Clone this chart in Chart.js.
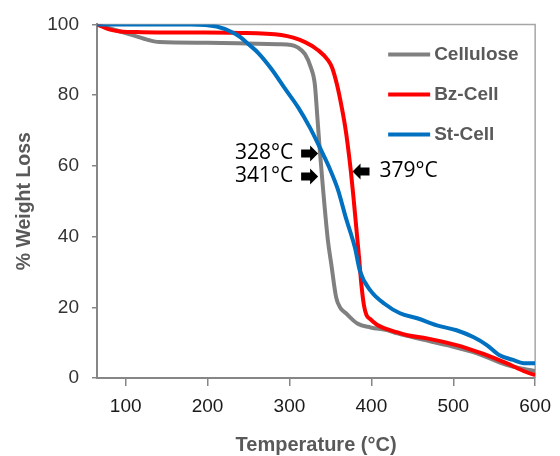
<!DOCTYPE html>
<html>
<head>
<meta charset="utf-8">
<script src="https://cdn.jsdelivr.net/npm/chart.js@4.4.1/dist/chart.umd.min.js"></script>
<style>
  html, body { margin: 0; padding: 0; background: #fff; }
</style>
</head>
<body>
<canvas id="tgaChart" width="560" height="456"></canvas>
<script>
// TGA curves
const cellTemp = [65, 85, 105, 129, 141, 200, 286, 302, 310, 319, 326, 331, 334, 337, 341, 347, 351, 357, 362, 369, 383, 399, 420, 432, 460, 492, 529, 565, 585, 600];
const cellLoss = [100, 98.6, 97.2, 95.5, 95.0, 94.8, 94.4, 94.2, 93.5, 91.6, 87.9, 83.0, 74.0, 64.6, 53.5, 38.8, 32.3, 22.8, 19.9, 18.3, 15.4, 14.3, 13.5, 12.6, 11.0, 9.3, 7.0, 3.7, 2.6, 2.0];

const bzTemp = [65, 81, 93, 120, 180, 238, 290, 319, 335, 347, 352, 358, 362, 368, 371, 375, 378, 381, 385, 388, 391, 394, 399, 408, 432, 444, 468, 504, 517, 541, 565, 589, 600];
const bzLoss = [100, 98.5, 98.0, 97.8, 97.7, 97.6, 97.0, 95.0, 92.7, 89.9, 87.8, 83.0, 78.7, 71.1, 66.2, 58.4, 51.5, 44.0, 34.0, 26.0, 20.5, 17.8, 16.6, 14.9, 12.9, 12.1, 11.2, 9.3, 8.4, 6.5, 4.2, 1.7, 0.8];

const stTemp = [65, 180, 211, 230, 240, 250, 262, 278, 295, 311, 325, 337, 349, 359, 369, 380, 386, 399, 416, 435, 456, 480, 504, 525, 541, 556, 573, 586, 600];
const stLoss = [100, 100, 99.4, 97.8, 96.4, 94.4, 91.9, 87.4, 81.7, 76.4, 70.8, 65.2, 59.3, 53.4, 45.2, 36.8, 30.3, 24.7, 21.0, 18.3, 16.9, 14.9, 13.5, 11.5, 9.3, 6.5, 5.1, 4.2, 4.2];

const seriesNames = ['Cellulose', 'Bz-Cell', 'St-Cell'];
const seriesColors = ['#808080', '#ff0000', '#0070c0'];

const xTicks = [100, 200, 300, 400, 500, 600];
const yTicks = [0, 20, 40, 60, 80, 100];

// arrow labels and the point each arrow tip touches
const markLabels = ['328°C', '341°C', '379°C'];
const markTemp = [335, 335, 377];
const markLoss = [63.5, 57.0, 58.4];
const markDir = [1, 1, -1]; // 1 = arrow points right

const sansFamily = '"Liberation Sans", Arial, sans-serif';

function toPoints(xs, ys) {
    return xs.map((x, i) => ({ x: x, y: ys[i] }));
}

function drawArrow(ctx, tipX, tipY, dir) {
    const len = 17, head = 8, headH = 8, shaftH = 4;
    ctx.beginPath();
    ctx.moveTo(tipX, tipY);
    ctx.lineTo(tipX - dir * head, tipY - headH);
    ctx.lineTo(tipX - dir * head, tipY - shaftH);
    ctx.lineTo(tipX - dir * len, tipY - shaftH);
    ctx.lineTo(tipX - dir * len, tipY + shaftH);
    ctx.lineTo(tipX - dir * head, tipY + shaftH);
    ctx.lineTo(tipX - dir * head, tipY + headH);
    ctx.closePath();
    ctx.fill();
}

const extras = {
    id: 'extras',
    beforeDatasetsDraw(chart) {
        const { ctx, chartArea: a } = chart;
        ctx.save();
        ctx.strokeStyle = '#a6a6a6';
        ctx.lineWidth = 1.5;
        ctx.beginPath();
        ctx.moveTo(a.left, a.top);
        ctx.lineTo(a.right, a.top);
        ctx.lineTo(a.right, a.bottom);
        ctx.stroke();
        ctx.restore();
    },
    afterDatasetsDraw(chart) {
        const { ctx, chartArea: a, scales } = chart;
        ctx.save();

        // legend
        ctx.font = 'bold 19px ' + sansFamily;
        ctx.textBaseline = 'middle';
        ctx.textAlign = 'left';
        seriesNames.forEach((name, i) => {
            const y = a.top + 30 + i * 40;
            ctx.strokeStyle = seriesColors[i];
            ctx.lineWidth = 4;
            ctx.beginPath();
            ctx.moveTo(a.right - 147, y);
            ctx.lineTo(a.right - 105, y);
            ctx.stroke();
            ctx.fillStyle = '#595959';
            ctx.fillText(name, a.right - 101, y);
        });

        // temperature arrows
        ctx.fillStyle = '#000';
        ctx.font = '21px "Open Sans", sans-serif';
        markLabels.forEach((label, i) => {
            const tx = scales.x.getPixelForValue(markTemp[i]);
            const ty = scales.y.getPixelForValue(markLoss[i]);
            drawArrow(ctx, tx, ty, markDir[i]);
            if (markDir[i] > 0) {
                ctx.textAlign = 'right';
                ctx.fillText(label, tx - 25, ty);
            } else {
                ctx.textAlign = 'left';
                ctx.fillText(label, tx + 27, ty);
            }
        });
        ctx.restore();
    }
};

const ctx = document.getElementById('tgaChart').getContext('2d');

const tgaChart = new Chart(ctx, {
    type: 'line',
    data: {
        datasets: [
            { label: seriesNames[0], data: toPoints(cellTemp, cellLoss), borderColor: seriesColors[0], order: 3 },
            { label: seriesNames[1], data: toPoints(bzTemp, bzLoss), borderColor: seriesColors[1], order: 2 },
            { label: seriesNames[2], data: toPoints(stTemp, stLoss), borderColor: seriesColors[2], order: 1 }
        ]
    },
    options: {
        responsive: false,
        animation: false,
        layout: { padding: { top: 22, right: 20, left: 0, bottom: 0 } },
        elements: {
            line: { borderWidth: 4, cubicInterpolationMode: 'monotone', fill: false },
            point: { radius: 0 }
        },
        plugins: {
            legend: { display: false },
            tooltip: { enabled: false }
        },
        scales: {
            x: {
                type: 'linear',
                min: 65,
                max: 600,
                afterBuildTicks: scale => { scale.ticks = xTicks.map(v => ({ value: v })); },
                afterFit: scale => { scale.height = 78; },
                border: { color: '#868686', width: 2 },
                grid: { drawOnChartArea: false, color: '#868686', lineWidth: 1.5, tickLength: 8 },
                ticks: {
                    color: '#1a1a1a',
                    padding: 9,
                    maxRotation: 0,
                    font: { family: sansFamily, size: 19 }
                },
                title: {
                    display: true,
                    text: 'Temperature (°C)',
                    color: '#595959',
                    padding: { top: 0, bottom: -1 },
                    font: { family: sansFamily, size: 20, weight: 'bold' }
                }
            },
            y: {
                min: 0,
                max: 100,
                afterBuildTicks: scale => { scale.ticks = yTicks.map(v => ({ value: v })); },
                afterFit: scale => { scale.width = 97; },
                border: { color: '#868686', width: 2 },
                grid: { drawOnChartArea: false, color: '#868686', lineWidth: 1.5, tickLength: 5 },
                ticks: {
                    color: '#333',
                    padding: 13,
                    font: { family: sansFamily, size: 19 }
                },
                title: {
                    display: true,
                    text: '% Weight Loss',
                    color: '#595959',
                    padding: { top: 13, bottom: 0 },
                    font: { family: sansFamily, size: 19.5, weight: 'bold' }
                }
            }
        }
    },
    plugins: [extras]
});
</script>
</body>
</html>
